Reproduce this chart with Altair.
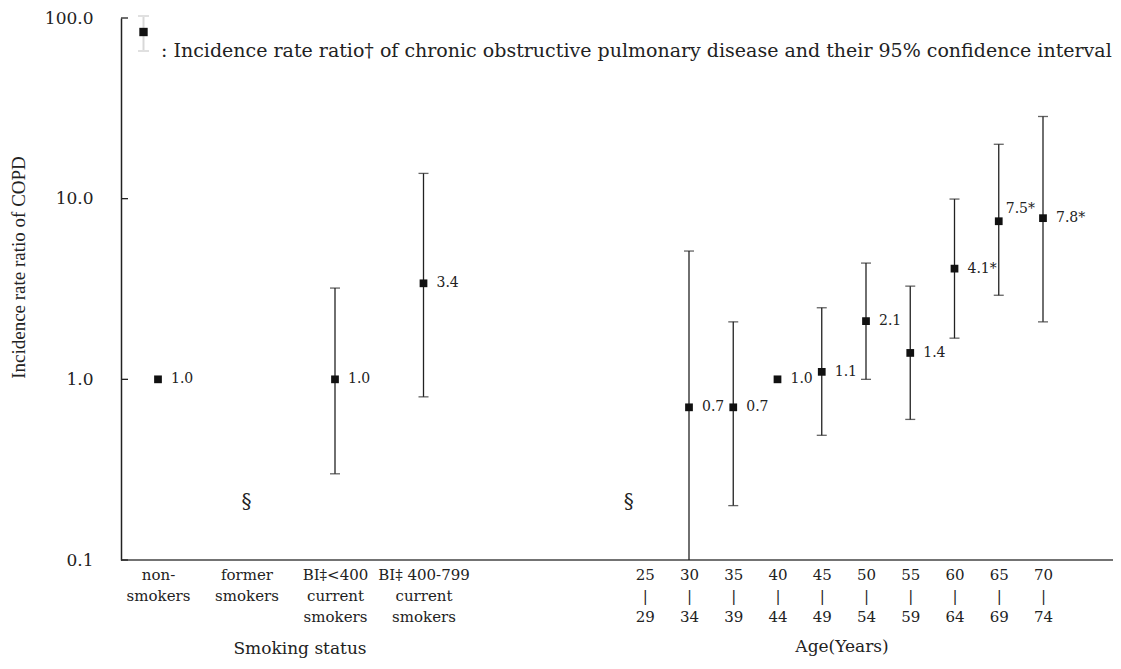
import altair as alt
import pandas as pd

# ---- data ----
categories = [
    "non-\nsmokers", "former\nsmokers", "BI\u2021<400\ncurrent\nsmokers", "BI\u2021 400-799\ncurrent\nsmokers",
    "25\n|\n29", "30\n|\n34", "35\n|\n39", "40\n|\n44", "45\n|\n49",
    "50\n|\n54", "55\n|\n59", "60\n|\n64", "65\n|\n69", "70\n|\n74",
]
irr = [1.0, None, 1.0, 3.4, None, 0.7, 0.7, 1.0, 1.1, 2.1, 1.4, 4.1, 7.5, 7.8]
ci_low = [None, None, 0.30, 0.80, None, 0.08, 0.20, None, 0.49, 1.00, 0.60, 1.69, 2.92, 2.08]
ci_high = [None, None, 3.2, 13.8, None, 5.13, 2.08, None, 2.49, 4.40, 3.28, 9.95, 20.0, 28.5]
value_labels = ["1.0", "", "1.0", "3.4", "", "0.7", "0.7", "1.0", "1.1", "2.1", "1.4", "4.1*", "7.5*", "7.8*"]
not_estimable = ["former\nsmokers", "25\n|\n29"]
y_ticks = [0.1, 1, 10, 100]

# spacer slots give the gaps between the category groups
spacers = [" ", "  ", "   ", "    ", "     ", "      ", "       "]
domain = [categories[0], spacers[0], categories[1], spacers[1], categories[2], spacers[2],
          categories[3], spacers[3], spacers[4], spacers[5], spacers[6]] + categories[4:]

df = pd.DataFrame({"cat": categories, "irr": irr, "lo": ci_low, "hi": ci_high, "lab": value_labels})
df_pts = df.dropna(subset=["irr"])
df_ci = df.dropna(subset=["lo"])
df_sec = pd.DataFrame({"cat": not_estimable, "y": [0.21, 0.21], "t": ["\u00a7", "\u00a7"]})
df_ticks = pd.DataFrame({"v": y_ticks})

W, H = 992, 542
SERIF = "DejaVu Serif"
TXT = "#222"
LOG = alt.Scale(type="log", domain=[0.1, 100])

xs = alt.X("cat:N", scale=alt.Scale(type="point", domain=domain, range=[37, 922], padding=0),
           axis=alt.Axis(values=categories, title=None, ticks=False, tickSize=0, domain=False,
                         labelExpr="split(datum.label, '\\n')", labelAngle=0,
                         labelFont=SERIF, labelFontSize=15, labelColor=TXT,
                         labelLineHeight=21, labelPadding=7))
ys = alt.Y("irr:Q", scale=LOG,
           axis=alt.Axis(values=y_ticks, format=".1f", title="Incidence rate ratio of COPD",
                         titleFont="Liberation Serif", titleFontSize=19, titleFontWeight="normal",
                         titleColor=TXT, titleX=-103, titleY=249, titleBaseline="middle",
                         labelFont=SERIF, labelFontSize=17, labelColor=TXT, labelPadding=28,
                         ticks=False, tickSize=0, grid=False, domainColor=TXT, domainWidth=1.5))

rules = alt.Chart(df_ci).mark_rule(color=TXT, strokeWidth=1.3, clip=True).encode(
    x=xs, y=alt.Y("lo:Q", scale=LOG), y2="hi:Q")
caps_lo = alt.Chart(df_ci).mark_tick(color=TXT, size=10, thickness=1.3, clip=True, orient="horizontal").encode(
    x=xs, y=alt.Y("lo:Q", scale=LOG))
caps_hi = alt.Chart(df_ci).mark_tick(color=TXT, size=10, thickness=1.3, clip=True, orient="horizontal").encode(
    x=xs, y=alt.Y("hi:Q", scale=LOG))
points = alt.Chart(df_pts).mark_square(size=60, color="#111", opacity=1, filled=True).encode(x=xs, y=ys)
labels_main = alt.Chart(df_pts).transform_filter("datum.lab != '7.5*'").mark_text(
    align="left", baseline="middle", dx=13, font=SERIF, fontSize=14, color=TXT).encode(
    x=xs, y=ys, text="lab:N")
labels_up = alt.Chart(df_pts).transform_filter("datum.lab == '7.5*'").mark_text(
    align="left", baseline="middle", dx=7, dy=-12, font=SERIF, fontSize=14, color=TXT).encode(
    x=xs, y=ys, text="lab:N")
sec1 = alt.Chart(df_sec).transform_filter("datum.cat == 'former\\nsmokers'").mark_text(
    font=SERIF, fontSize=20, color=TXT, baseline="middle").encode(
    x=xs, y=alt.Y("y:Q", scale=LOG), text="t:N")
sec2 = alt.Chart(df_sec).transform_filter("datum.cat != 'former\\nsmokers'").mark_text(
    font=SERIF, fontSize=20, color=TXT, baseline="middle", dx=-16).encode(
    x=xs, y=alt.Y("y:Q", scale=LOG), text="t:N")
inner_ticks = alt.Chart(df_ticks).mark_rule(color=TXT, strokeWidth=1.3).encode(
    y=alt.Y("v:Q", scale=LOG), x=alt.value(0), x2=alt.value(7))

one = pd.DataFrame({"k": [0]})
x_domain = alt.Chart(one).mark_rule(color="#444", strokeWidth=1.5).encode(
    x=alt.value(0), x2=alt.value(W), y=alt.value(H))
leg_bar = alt.Chart(one).mark_rule(color="#d8d8d8", strokeWidth=2).encode(
    x=alt.value(22.5), y=alt.value(-2), y2=alt.value(33))
leg_cap1 = alt.Chart(one).mark_rule(color="#e0e0e0", strokeWidth=2).encode(
    x=alt.value(17), x2=alt.value(28), y=alt.value(-2))
leg_cap2 = alt.Chart(one).mark_rule(color="#e0e0e0", strokeWidth=2).encode(
    x=alt.value(17), x2=alt.value(28), y=alt.value(33))
leg_sq = alt.Chart(one).mark_square(size=70, color="#111", opacity=1).encode(
    x=alt.value(22.5), y=alt.value(14))
leg_txt = alt.Chart(one).mark_text(align="left", baseline="middle", font=SERIF, fontSize=19, color=TXT).encode(
    x=alt.value(40), y=alt.value(33),
    text=alt.value(": Incidence rate ratio\u2020 of chronic obstructive pulmonary disease and their 95% confidence interval"))

t1 = alt.Chart(one).mark_text(align="center", baseline="middle", font=SERIF, fontSize=17, color=TXT).encode(
    x=alt.value(179), y=alt.value(H + 89), text=alt.value("Smoking status"))
t2 = alt.Chart(one).mark_text(align="center", baseline="middle", font=SERIF, fontSize=17, color=TXT).encode(
    x=alt.value(721), y=alt.value(H + 87), text=alt.value("Age(Years)"))

chart = alt.layer(
    x_domain, rules, caps_lo, caps_hi, points, labels_main, labels_up, sec1, sec2, inner_ticks,
    leg_bar, leg_cap1, leg_cap2, leg_sq, leg_txt, t1, t2,
).properties(
    width=W, height=H,
    background="white",
    autosize=alt.AutoSizeParams(type="none"),
    padding={"left": 113, "top": 10, "right": 0, "bottom": 100},
).configure_view(stroke=None).configure_axis(grid=False)

chart.save("out.html", embed_options={"renderer": "svg", "actions": False})
